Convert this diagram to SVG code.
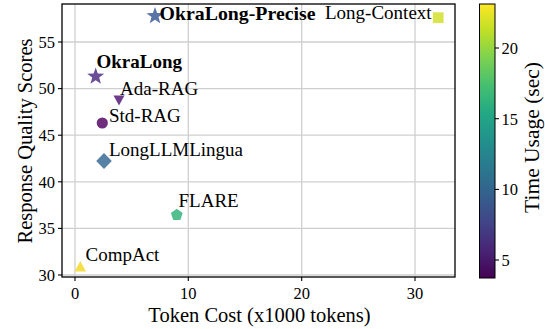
<svg xmlns="http://www.w3.org/2000/svg" width="545" height="329" viewBox="0 0 545 329">
<defs>
<style>
.grid{stroke:#cfcfcf;stroke-width:1.3;fill:none}
.spine{stroke:#000;stroke-width:1.3;fill:none}
.tick{stroke:#000;stroke-width:1.1}
.tl{font-family:"Liberation Serif","Times New Roman",serif;font-size:16.5px;fill:#000}
.lab{font-family:"Liberation Serif","Times New Roman",serif;font-size:20.5px;fill:#000}
.ann{font-family:"Liberation Serif","Times New Roman",serif;font-size:19px;fill:#000}
.b{font-weight:bold}
</style>
<linearGradient id="viridis" x1="0" y1="1" x2="0" y2="0">
<stop offset="0" stop-color="#440154"/>
<stop offset="0.1" stop-color="#482475"/>
<stop offset="0.2" stop-color="#414487"/>
<stop offset="0.3" stop-color="#355f8d"/>
<stop offset="0.4" stop-color="#2a788e"/>
<stop offset="0.5" stop-color="#21918c"/>
<stop offset="0.6" stop-color="#22a884"/>
<stop offset="0.7" stop-color="#44bf70"/>
<stop offset="0.8" stop-color="#7ad151"/>
<stop offset="0.9" stop-color="#bddf26"/>
<stop offset="1" stop-color="#fde725"/>
</linearGradient>
</defs>
<rect width="545" height="329" fill="#fff"/>
<g id="grid">
<line class="grid" x1="75" y1="4" x2="75" y2="277"/>
<line class="grid" x1="188.3" y1="4" x2="188.3" y2="277"/>
<line class="grid" x1="301.7" y1="4" x2="301.7" y2="277"/>
<line class="grid" x1="415" y1="4" x2="415" y2="277"/>
<line class="grid" x1="62" y1="275" x2="455" y2="275"/>
<line class="grid" x1="62" y1="228.4" x2="455" y2="228.4"/>
<line class="grid" x1="62" y1="181.8" x2="455" y2="181.8"/>
<line class="grid" x1="62" y1="135.2" x2="455" y2="135.2"/>
<line class="grid" x1="62" y1="88.6" x2="455" y2="88.6"/>
<line class="grid" x1="62" y1="42" x2="455" y2="42"/>
</g>
<g id="axes">
<rect class="spine" x="62" y="4" width="393" height="273"/>
<g class="tick">
<line x1="75" y1="277" x2="75" y2="281"/>
<line x1="188.3" y1="277" x2="188.3" y2="281"/>
<line x1="301.7" y1="277" x2="301.7" y2="281"/>
<line x1="415" y1="277" x2="415" y2="281"/>
<line x1="58" y1="275" x2="62" y2="275"/>
<line x1="58" y1="228.4" x2="62" y2="228.4"/>
<line x1="58" y1="181.8" x2="62" y2="181.8"/>
<line x1="58" y1="135.2" x2="62" y2="135.2"/>
<line x1="58" y1="88.6" x2="62" y2="88.6"/>
<line x1="58" y1="42" x2="62" y2="42"/>
</g>
<g class="tl" text-anchor="middle">
<text x="75" y="299">0</text>
<text x="188.3" y="299">10</text>
<text x="301.7" y="299">20</text>
<text x="415" y="299">30</text>
</g>
<g class="tl" text-anchor="end">
<text x="55" y="280.8">30</text>
<text x="55" y="234.2">35</text>
<text x="55" y="187.6">40</text>
<text x="55" y="141">45</text>
<text x="55" y="94.4">50</text>
<text x="55" y="47.8">55</text>
</g>
<text class="lab" x="259.5" y="321.5" text-anchor="middle">Token Cost (x1000 tokens)</text>
<text class="lab" transform="translate(32,141) rotate(-90)" text-anchor="middle">Response Quality Scores</text>
</g>
<g id="connectors"></g>
<g id="node-okralong-precise">
<polygon points="155,7 157.1,13 163.5,13.2 158.5,17.1 160.2,23.3 155,19.7 149.8,23.3 151.5,17.1 146.5,13.2 152.9,13" fill="#5b74a6"/>
<text class="ann b" x="159.5" y="19.5" textLength="156" lengthAdjust="spacingAndGlyphs">OkraLong-Precise</text>
</g>
<g id="node-long-context">
<rect x="432.8" y="12.3" width="10.8" height="10.8" fill="#d9e44e"/>
<text class="ann" x="325" y="19">Long-Context</text>
</g>
<g id="node-okralong">
<polygon points="95.7,67.5 97.8,73.5 104.2,73.7 99.2,77.6 100.9,83.8 95.7,80.2 90.5,83.8 92.2,77.6 87.2,73.7 93.6,73.5" fill="#6a4f98"/>
<text class="ann b" x="96.5" y="67.5">OkraLong</text>
</g>
<g id="node-ada-rag">
<polygon points="113.5,95.5 124.5,95.5 119,105.5" fill="#6d3d8c"/>
<text class="ann" x="120" y="95">Ada-RAG</text>
</g>
<g id="node-std-rag">
<circle cx="102.3" cy="123" r="5.6" fill="#6e2d7d"/>
<text class="ann" x="109" y="122">Std-RAG</text>
</g>
<g id="node-longllmlingua">
<polygon points="104,153 111.8,161 104,169 96.2,161" fill="#5781a5"/>
<text class="ann" x="109" y="155.5">LongLLMLingua</text>
</g>
<g id="node-flare">
<polygon points="176.8,208.8 182.7,213.1 180.4,220 173.2,220 170.9,213.1" fill="#54bf8e"/>
<text class="ann" x="178.5" y="207">FLARE</text>
</g>
<g id="node-compact">
<polygon points="80.3,261 86,271.5 74.6,271.5" fill="#f5e04a"/>
<text class="ann" x="85.5" y="260.5">CompAct</text>
</g>
<g id="colorbar">
<rect x="479.5" y="4" width="15.5" height="274" fill="url(#viridis)" stroke="#000" stroke-width="1"/>
<g class="tick">
<line x1="495" y1="48" x2="499" y2="48"/>
<line x1="495" y1="118.7" x2="499" y2="118.7"/>
<line x1="495" y1="189.4" x2="499" y2="189.4"/>
<line x1="495" y1="260" x2="499" y2="260"/>
</g>
<g class="tl">
<text x="501.5" y="53.8">20</text>
<text x="501.5" y="124.5">15</text>
<text x="501.5" y="195.2">10</text>
<text x="501.5" y="265.8">5</text>
</g>
<text class="lab" transform="translate(538.5,137.5) rotate(-90)" text-anchor="middle" style="font-size:21.5px">Time Usage (sec)</text>
</g>
</svg>
